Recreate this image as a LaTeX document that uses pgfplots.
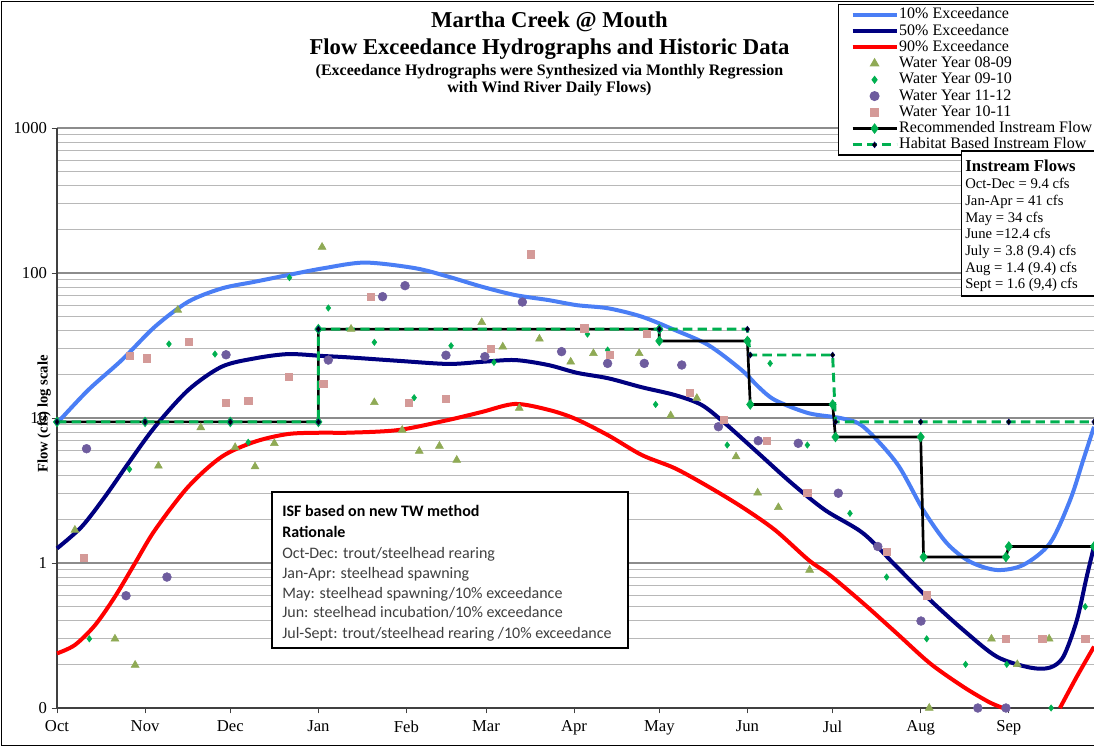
\documentclass[border=0pt]{standalone}
\usepackage{pgfplots}
\pgfplotsset{compat=1.18}
\usepackage{fontspec}
\setmainfont{Liberation Serif}
\newfontfamily\calibri{Carlito}
\definecolor{tenp}{HTML}{4A7EF5}
\definecolor{fiftyp}{HTML}{000080}
\definecolor{ninetyp}{HTML}{FF0000}
\definecolor{olivetri}{HTML}{8FAA55}
\definecolor{greendia}{HTML}{00B050}
\definecolor{purplec}{HTML}{6E5C9E}
\definecolor{pinksq}{HTML}{D49A98}
\definecolor{gridmaj}{HTML}{8C8C8C}
\definecolor{gridmin}{HTML}{B8B8B8}
\definecolor{isftext}{HTML}{404040}
\begin{document}
\begin{tikzpicture}
\begin{axis}[
  at={(42.75pt,29.25pt)}, anchor=south west,
  scale only axis, width=777.75pt, height=435pt,
  xmin=0, xmax=365, ymode=log, ymin=0.1, ymax=1000,
  clip=false,
  axis x line*=bottom, axis y line*=left,
  axis line style={black!75, line width=0.8pt, -},
  xtick={0,31,61,92,123,151,182,212,243,273,304,335},
  xticklabels={Oct,Nov,Dec,Jan,Feb,Mar,Apr,May,Jun,Jul,Aug,Sep},
  ytick={0.1,1,10,100,1000},
  yticklabels={0,1,10,100,1000},
  minor ytick={0.2,0.3,0.4,0.5,0.6,0.7,0.8,0.9,2,3,4,5,6,7,8,9,20,30,40,50,60,70,80,90,200,300,400,500,600,700,800,900},
  tick align=outside, major tick length=4pt, minor tick length=0pt,
  tick style={black!75, line width=0.6pt},
  ymajorgrids, yminorgrids,
  major grid style={gridmaj, line width=0.8pt},
  minor grid style={gridmin, line width=0.8pt},
  ticklabel style={font=\fontsize{12.5}{14}\selectfont},
  xticklabel style={yshift=-2pt},
  legend cell align=left,
  legend image code/.code={\draw[mark repeat=2,mark phase=2,#1] plot coordinates {(0pt,0pt) (16.5pt,0pt) (33pt,0pt)};},
  legend style={at={(0.7531,1.2138)}, anchor=north west, draw=black, line width=0.9pt, fill=white,
    font=\fontsize{12}{13}\selectfont, inner xsep=9pt, inner ysep=1.5pt, row sep=0pt,
    nodes={inner sep=0.5pt, text height=8.6pt, text depth=2.6pt}},
]
% 10% exceedance
\addplot[tenp, line width=3pt, smooth] coordinates {
(0,9.2)(11,15.6)(22.8,25.1)(34.5,42.7)(46.2,63.4)(58,78.3)(69.7,87.1)(81.4,96.9)(94,108)(108.4,118)(126,108)(137.7,94.4)(149.5,80.5)(161.2,70.5)(172.9,65.1)(183,60)(194,57.1)(205.8,50)(217.5,40.4)(229.3,31.8)(241,21.4)(246.9,16.4)(252.7,13.3)(264.5,10.8)(276.2,9.95)(283.8,8.71)(295.6,4.87)(304.9,2.32)(313.2,1.37)(321.4,1.02)(330.8,0.895)(340.1,0.97)(349.5,1.37)(356.6,2.72)(361.2,5.13)(365,8.7)};
\addlegendentry{10\% Exceedance}
% 50% exceedance
\addplot[fiftyp, line width=3pt, smooth] coordinates {
(0,1.26)(8.7,1.78)(16.9,2.87)(25.1,4.87)(34.5,8.71)(46.2,15.6)(58,22.6)(69.7,25.8)(81.4,27.6)(93.2,26.8)(102.5,26.2)(120.1,24.8)(137.7,23.6)(149.5,24.4)(161.2,25.1)(172.9,23.2)(183,20.5)(194,18.8)(205.8,16.3)(217.5,14.4)(226.9,12.3)(235.1,9.2)(246.9,5.71)(258.6,3.55)(270.3,2.32)(283.8,1.6)(295.6,0.94)(307.3,0.556)(319,0.345)(330.8,0.226)(342.5,0.19)(349.5,0.19)(354.2,0.226)(358.9,0.40)(362.4,0.80)(365,1.3)};
\addlegendentry{50\% Exceedance}
% 90% exceedance
\addplot[ninetyp, line width=3pt, smooth] coordinates {
(0,0.238)(6.3,0.272)(13.4,0.373)(20.4,0.586)(27.5,1.0)(34.5,1.69)(46.2,3.36)(58,5.41)(69.7,6.87)(81.4,7.76)(93.2,7.92)(102.5,7.92)(120.1,8.26)(137.7,9.69)(149.5,11.0)(161.2,12.5)(172.9,11.4)(182.3,9.9)(194,7.6)(205.8,5.56)(217.5,4.5)(229.3,3.36)(241,2.44)(252.7,1.69)(264.5,1.05)(272,0.826)(283.8,0.527)(295.6,0.327)(307.3,0.203)(319,0.14)(328,0.11)(333,0.1)};
\addlegendentry{90\% Exceedance}
% WY 08-09
\addplot[only marks, mark=triangle*, mark size=3.4pt, olivetri, mark options={fill=olivetri, draw=olivetri}] coordinates {
(6.3,1.69)(20.4,0.30)(27.5,0.198)(35.7,4.67)(42.5,55.6)(50.6,8.6)(62.7,6.28)(69.7,4.62)(76.5,6.69)(93.3,151)(103.5,41.1)(111.7,12.8)(121.5,8.26)(127.5,5.92)(134.6,6.41)(140.7,5.13)(149.5,45.7)(156.9,31.0)(162.7,11.7)(169.8,35.1)(180.8,24.4)(188.8,27.9)(204.9,27.9)(216.0,10.4)(225.2,13.7)(239.0,5.41)(246.6,3.05)(253.9,2.42)(264.9,0.895)(307,0.1)(328.9,0.3)(338.0,0.2)(349.2,0.3)};
\addlegendentry{Water Year 08-09}
% WY 09-10
\addplot[only marks, mark=diamond*, mark size=2.4pt, greendia, mark options={fill=greendia, draw=greendia}] coordinates {
(11.4,0.30)(25.5,4.43)(39.4,32.4)(55.6,27.6)(67.3,6.8)(81.8,92.9)(95.5,57.4)(111.7,33.3)(125.7,13.8)(138.7,31.5)(153.8,24.2)(186.7,37.9)(193.8,29.4)(210.7,12.4)(235.9,6.51)(251.0,23.8)(264.1,6.51)(279.1,2.2)(292.0,0.80)(306.1,0.30)(319.8,0.20)(334.3,0.20)(349.9,0.1)(361.9,0.50)};
\addlegendentry{Water Year 09-10}
% WY 11-12
\addplot[only marks, mark=*, mark size=3.3pt, purplec, mark options={fill=purplec, draw=purplec}] coordinates {
(10.4,6.14)(24.3,0.595)(38.7,0.80)(59.5,27.3)(95.5,25.1)(114.6,68.7)(122.5,81.8)(136.9,27.1)(150.6,26.5)(163.8,63.1)(177.6,28.7)(193.8,23.8)(206.7,23.8)(219.9,23.2)(232.8,8.71)(246.8,6.97)(260.9,6.69)(275.0,3.03)(288.9,1.30)(304.1,0.398)(324.1,0.1)(334.0,0.1)};
\addlegendentry{Water Year 11-12}
% WY 10-11
\addplot[only marks, mark=square*, mark size=2.7pt, pinksq, mark options={fill=pinksq, draw=pinksq}] coordinates {
(9.5,1.09)(25.6,26.8)(31.6,25.8)(46.5,33.4)(59.5,12.8)(67.3,13.2)(81.7,19.2)(93.7,17.2)(110.5,68.7)(123.7,12.8)(136.8,13.5)(152.6,29.9)(166.8,134.6)(185.6,41.6)(194.6,27.2)(207.6,37.9)(222.8,14.9)(234.8,9.69)(249.8,6.97)(264.1,3.07)(292.0,1.20)(306.1,0.60)(333.9,0.3)(346.8,0.3)(361.9,0.3)};
\addlegendentry{Water Year 10-11}
% Recommended instream flow
\addplot[black, line width=2pt, mark=diamond*, mark size=3.6pt, mark options={fill=greendia, draw=greendia, line width=0.5pt}] coordinates {
(0,9.4)(31,9.4)(61,9.4)(92,9.4)(92,41)(212,41)(212,34)(243,34)(244,12.4)(273,12.4)(274,7.4)(304,7.4)(305,1.1)(334,1.1)(335,1.3)(365,1.3)};
\addlegendentry{Recommended Instream Flow}
% Habitat based instream flow
\addplot[greendia, line width=2.2pt, dash pattern=on 7pt off 4pt, mark=diamond*, mark size=2.2pt, mark options={solid, fill=black, draw=black!60!blue, line width=0.4pt}] coordinates {
(0,9.4)(31,9.4)(61,9.4)(92,9.4)(92,41)(212,41)(243,41)(244,27.2)(273,27.2)(274,9.4)(304,9.4)(335,9.4)(365,9.4)};
\addlegendentry{Habitat Based Instream Flow}
% 90% tail (re-entering)
\addplot[ninetyp, line width=3pt, smooth, forget plot] coordinates {(353,0.1)(358.9,0.164)(365,0.265)};
\end{axis}
\begin{scope}[x=0.75pt, y=-0.75pt, shift={(0pt,560.25pt)}]
% frame
\draw[line width=1.1pt] (1094,1.5) -- (1.5,1.5) -- (1.5,745.5) -- (1094,745.5);
% titles
\node[font=\bfseries\fontsize{17}{20}\selectfont] at (549.5,22) {Martha Creek @ Mouth};
\node[font=\bfseries\fontsize{17}{20}\selectfont] at (549.5,49) {Flow Exceedance Hydrographs and Historic Data};
\node[font=\bfseries\fontsize{12}{14}\selectfont] at (549.5,72) {(Exceedance Hydrographs were Synthesized via Monthly Regression};
\node[font=\bfseries\fontsize{12}{14}\selectfont] at (549.5,89) {with Wind River Daily Flows)};
% y label
\node[rotate=90, font=\bfseries\fontsize{11}{13}\selectfont] at (44,414) {Flow (cfs) log scale};
% instream box
\draw[fill=white, line width=1.1pt] (961.5,151) rectangle (1097,296);
\node[anchor=base west, font=\bfseries\fontsize{12.5}{14}\selectfont, inner sep=0pt] at (965,171.5) {Instream Flows};
\begin{scope}[every node/.style={anchor=base west, font=\fontsize{11}{12}\selectfont, inner sep=0pt}]
\node at (965,189) {Oct-Dec = 9.4 cfs};
\node at (965,205.7) {Jan-Apr = 41 cfs};
\node at (965,222.4) {May = 34 cfs};
\node at (965,239) {June =12.4 cfs};
\node at (965,255.7) {July = 3.8 (9.4) cfs};
\node at (965,272.4) {Aug = 1.4 (9.4) cfs};
\node at (965,289) {Sept = 1.6 (9,4) cfs};
\end{scope}
% ISF box
\draw[fill=white, line width=1.1pt] (272,492) rectangle (628,648);
\begin{scope}[every node/.style={anchor=base west, inner sep=0pt}]
\node[font=\calibri\bfseries\fontsize{12}{14}\selectfont] at (282,516) {ISF based on new TW method};
\node[font=\calibri\bfseries\fontsize{12}{14}\selectfont] at (282,537) {Rationale};
\node[font=\calibri\fontsize{12}{14}\selectfont, text=isftext] at (282,558) {Oct-Dec: trout/steelhead rearing};
\node[font=\calibri\fontsize{12}{14}\selectfont, text=isftext] at (282,578) {Jan-Apr: steelhead spawning};
\node[font=\calibri\fontsize{12}{14}\selectfont, text=isftext] at (282,598) {May: steelhead spawning/10\% exceedance};
\node[font=\calibri\fontsize{12}{14}\selectfont, text=isftext] at (282,617) {Jun: steelhead incubation/10\% exceedance};
\node[font=\calibri\fontsize{12}{14}\selectfont, text=isftext] at (282,638) {Jul-Sept: trout/steelhead rearing /10\% exceedance};
\end{scope}
\pgfresetboundingbox
\path[use as bounding box] (0,0) rectangle (1094,747);
\end{scope}
\end{tikzpicture}
\end{document}
